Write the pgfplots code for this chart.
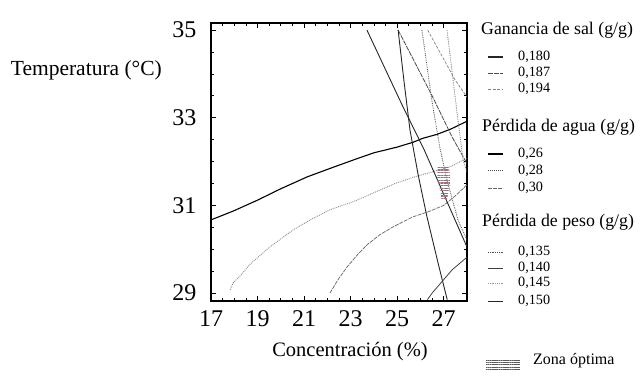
\documentclass[border=0pt]{standalone}
\usepackage{pgfplots}
\pgfplotsset{compat=1.18}
\usepackage{fontspec}
\setmainfont{Liberation Serif}
\usetikzlibrary{patterns,patterns.meta}
\definecolor{zona}{RGB}{150,115,125}
\begin{document}
\begin{tikzpicture}[x=1pt,y=1pt]
\begin{axis}[at={(211pt,77pt)}, anchor=south west, scale only axis,
  width=256pt, height=278pt,
  xmin=17, xmax=28, ymin=28.82, ymax=35.16,
  xtick={17,19,21,23,25,27}, ytick={29,31,33,35},
  minor x tick num=3, minor y tick num=3,
  tick align=inside, major tick length=5pt, minor tick length=3pt,
  axis line style={line width=1.1pt},
  every tick/.style={black, line width=0.7pt},
  tick label style={font=\fontsize{24}{24}\selectfont},
  /pgf/number format/assume math mode=true,
  xticklabel style={yshift=-6pt},
  yticklabel style={xshift=-11pt},
  clip=true]
% Perdida de agua 0,26
\addplot[black, line width=1.1pt] coordinates {(17,30.67)(17.95,30.87)(19,31.12)(20,31.38)(21.13,31.65)(22.2,31.86)(23.19,32.05)(24,32.2)(25,32.33)(25.68,32.44)(26.1,32.53)(26.71,32.62)(27.3,32.74)(28,32.92)};
% Perdida de agua 0,28
\addplot[black!45, line width=0.9pt, densely dotted] coordinates {(17.82,29.07)(17.95,29.23)(18.3,29.42)(18.68,29.66)(19.5,30.04)(20.52,30.44)(21.3,30.68)(22.11,30.9)(23.19,31.1)(24.26,31.35)(24.91,31.5)(25.8,31.66)(26.63,31.78)(27.36,31.9)(28,32.08)};
% Perdida de agua 0,30
\addplot[black!60, line width=0.7pt, dash pattern=on 4pt off 1pt] coordinates {(22.11,29.0)(22.45,29.3)(22.84,29.59)(23.25,29.85)(23.7,30.1)(24.25,30.33)(24.82,30.51)(25.68,30.74)(26.31,30.85)(27.0,31.0)(27.5,31.22)(28,31.47)};
% Ganancia de sal 0,180
\addplot[black!85, line width=0.9pt] coordinates {(23.7,35)(25.23,33.27)(26.15,32.28)(28,30.05)};
% Ganancia de sal 0,187
\addplot[black!70, line width=0.8pt, dash pattern=on 5pt off 1pt] coordinates {(25.04,35)(26.5,33.5)(27.36,32.56)(28,31.95)};
% Ganancia de sal 0,194
\addplot[black!50, line width=0.7pt, dash pattern=on 3pt off 1.5pt] coordinates {(26.31,35)(27.49,33.86)(28,33.47)};
% Perdida de peso 0,150
\addplot[black!85, line width=0.9pt] coordinates {(25.04,35)(25.3,33.8)(25.55,32.72)(25.9,31.7)(26.28,30.74)(26.76,29.68)(27.15,28.85)};
% Perdida de peso 0,135
\addplot[black!70, line width=0.8pt, densely dotted] coordinates {(26.06,35)(26.5,33.36)(26.84,32.3)(27.14,31.58)(27.61,30.67)(28,30.21)};
% Perdida de peso 0,145
\addplot[black!55, line width=0.8pt, densely dotted] coordinates {(27.14,35)(27.61,32.95)(27.83,32.04)(28,31.76)};
% Perdida de peso 0,140
\addplot[black!75, line width=0.8pt] coordinates {(26.3,28.85)(26.5,29.0)(27.36,29.53)(28,29.82)};
% Zona optima
\addplot[draw=none, pattern={Lines[angle=0,distance=2.6pt,line width=1.1pt]}, pattern color=zona] coordinates {(26.74,31.9)(27.22,31.9)(27.28,31.6)(27.24,31.35)(27.12,31.12)(26.92,31.1)(26.84,31.35)(26.72,31.6)} -- cycle;
\end{axis}
% axis labels
\node[anchor=east, inner sep=0pt, font=\fontsize{21.5}{21.5}\selectfont] at (162,308) {Temperatura (°C)};
\node[anchor=center, inner sep=0pt, font=\fontsize{20.5}{20.5}\selectfont] at (350,26) {Concentración (\%)};
% legend titles
\begin{scope}[every node/.style={anchor=west, inner sep=0pt, font=\fontsize{17.8}{17.8}\selectfont}]
\node at (481,348) {Ganancia de sal (g/g)};
\node at (482,251) {Pérdida de agua (g/g)};
\node at (482,156) {Pérdida de peso (g/g)};
\end{scope}
\begin{scope}[every node/.style={anchor=west, inner sep=0pt, font=\fontsize{14.2}{14.2}\selectfont}]
\node at (518,321) {0,180};
\node at (518,305) {0,187};
\node at (518,289) {0,194};
\node at (518,224) {0,26};
\node at (518,207) {0,28};
\node at (518,190) {0,30};
\node at (518,126) {0,135};
\node at (518,110) {0,140};
\node at (518,95) {0,145};
\node at (518,77) {0,150};
\end{scope}
\draw[black!85, line width=1.1pt] (488,321) -- (503,321);
\draw[black!70, line width=0.9pt, dash pattern=on 5pt off 1pt] (488,305) -- (503,305);
\draw[black!50, line width=0.8pt, dash pattern=on 3pt off 1.5pt] (488,289) -- (503,289);
\draw[black, line width=1.2pt] (488,224) -- (503,224);
\draw[black!70, line width=1pt, densely dotted] (488,207) -- (503,207);
\draw[black!60, line width=0.7pt, dash pattern=on 4pt off 1pt] (488,190) -- (503,190);
\draw[black!70, line width=0.8pt, densely dotted] (488,126) -- (503,126);
\draw[black!75, line width=0.9pt] (488,110) -- (503,110);
\draw[black!40, line width=0.8pt, densely dotted] (488,95) -- (503,95);
\draw[black!85, line width=0.9pt] (488,77) -- (503,77);
\fill[pattern={Lines[angle=0,distance=2.2pt,line width=0.8pt]}, pattern color=black!65] (486,9) rectangle (520,18);
\node[anchor=west, inner sep=0pt, font=\fontsize{16}{16}\selectfont] at (533,17) {Zona óptima};
\pgfresetboundingbox
\path[use as bounding box] (0,0) rectangle (643,378);
\end{tikzpicture}
\end{document}
